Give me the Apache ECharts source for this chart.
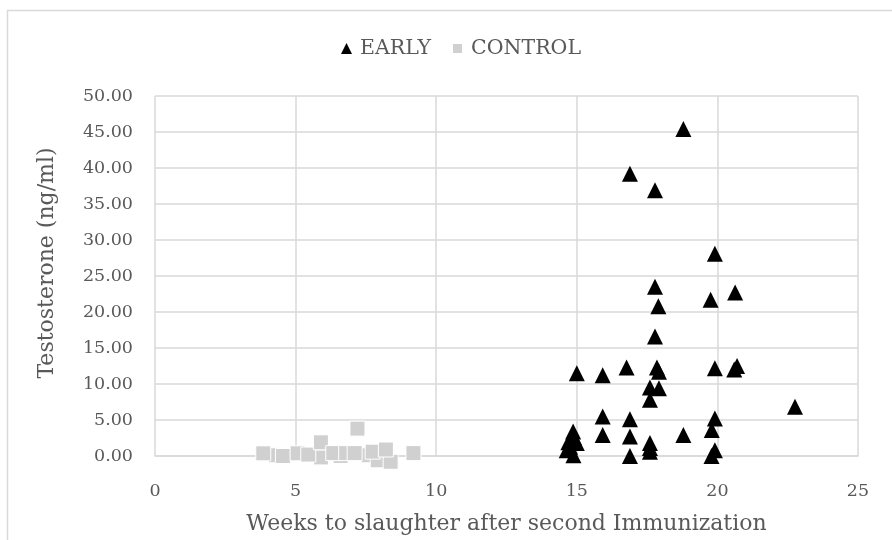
<!DOCTYPE html>
<html>
<head>
<meta charset="utf-8">
<script src="https://cdn.jsdelivr.net/npm/echarts@6/dist/echarts.min.js"></script>
<style>html,body{margin:0;padding:0;background:#fff}#c{width:892px;height:540px}</style>
</head>
<body>
<div id="c"></div>
<script>
var earlyX = [18.79,16.89,17.78,19.91,17.78,19.76,20.63,17.9,17.78,15.0,15.92,16.77,17.85,17.92,19.91,20.7,20.6,17.6,17.92,17.6,22.76,15.92,16.89,19.91,19.8,15.92,16.89,18.79,16.89,17.6,17.6,17.6,19.91,19.79,14.87,14.9,14.76,14.64,14.88,15.0,14.7];
var earlyY = [45.4,39.2,36.9,28.1,23.5,21.7,22.7,20.8,16.6,11.5,11.2,12.3,12.3,11.7,12.2,12.5,12.0,9.5,9.4,7.8,6.85,5.5,5.1,5.2,3.6,2.9,2.7,2.9,0.0,1.8,1.1,0.6,0.8,0.0,3.4,2.6,1.3,0.8,0.1,1.8,1.9];
var controlX = [4.3,4.55,3.85,5.07,5.9,5.45,5.9,6.6,6.34,7.6,6.8,7.1,7.2,7.92,8.38,7.74,8.21,9.19];
var controlY = [0.1,0.0,0.37,0.37,-0.2,0.2,1.9,0.0,0.4,0.1,0.4,0.4,3.8,-0.6,-0.8,0.6,0.9,0.4];
var xTicks = [0,5,10,15,20,25];
var yTicks = [0,5,10,15,20,25,30,35,40,45,50];

var FONT = 'DejaVu Serif';
var TXT = '#595959';
var GRID = '#d9d9d9';

function pairs(xs, ys){ return xs.map(function(x,i){ return [x, ys[i]]; }); }

var chart = echarts.init(document.getElementById('c'), null, {renderer:'canvas'});
chart.setOption({
  animation:false,
  backgroundColor:'#fff',
  textStyle:{fontFamily:FONT},
  graphic:[{type:'rect', shape:{x:7.5,y:10.5,width:900,height:560}, style:{fill:'none', stroke:GRID, lineWidth:1.5}, silent:true}],
  legend:{
    top:33, left:336,
    itemWidth:11, itemHeight:11, itemGap:20,
    textStyle:{color:TXT, fontSize:20.5, fontFamily:FONT, padding:[0,0,0,3]},
    data:[{name:'EARLY', icon:'triangle', itemStyle:{color:'#000'}},{name:'CONTROL', icon:'rect', itemStyle:{color:'#d0d0d0'}}]
  },
  grid:{left:155, right:34, top:96, bottom:84},
  xAxis:{
    type:'value', min:xTicks[0], max:xTicks[xTicks.length-1], interval:5,
    name:'Weeks to slaughter after second Immunization', nameLocation:'middle', nameGap:57,
    nameTextStyle:{color:TXT, fontSize:22, fontFamily:FONT},
    axisLine:{show:true, lineStyle:{color:GRID, width:1.5}},
    axisTick:{show:false},
    axisLabel:{color:TXT, fontSize:17.5, fontFamily:FONT, margin:26},
    splitLine:{show:true, lineStyle:{color:GRID, width:1.5}}
  },
  yAxis:{
    type:'value', min:yTicks[0], max:yTicks[yTicks.length-1], interval:5,
    name:'Testosterone (ng/ml)', nameLocation:'middle', nameGap:97,
    nameTextStyle:{color:TXT, fontSize:22, fontFamily:FONT, padding:[0,0,0,26]},
    axisLine:{show:false},
    axisTick:{show:false},
    axisLabel:{color:TXT, fontSize:17.5, fontFamily:FONT, margin:22, formatter:function(v){return v.toFixed(2);}},
    splitLine:{show:true, lineStyle:{color:GRID, width:1.5}}
  },
  series:[
    {name:'CONTROL', type:'scatter', symbol:'rect', symbolSize:15, clip:false,
     itemStyle:{color:'#d0d0d0', borderColor:'#fff', borderWidth:1, opacity:1},
     data:pairs(controlX, controlY)},
    {name:'EARLY', type:'scatter', symbol:'triangle', symbolSize:[16,16], clip:false,
     itemStyle:{color:'#000', opacity:1},
     data:pairs(earlyX, earlyY)}
  ]
});
</script>
</body>
</html>
